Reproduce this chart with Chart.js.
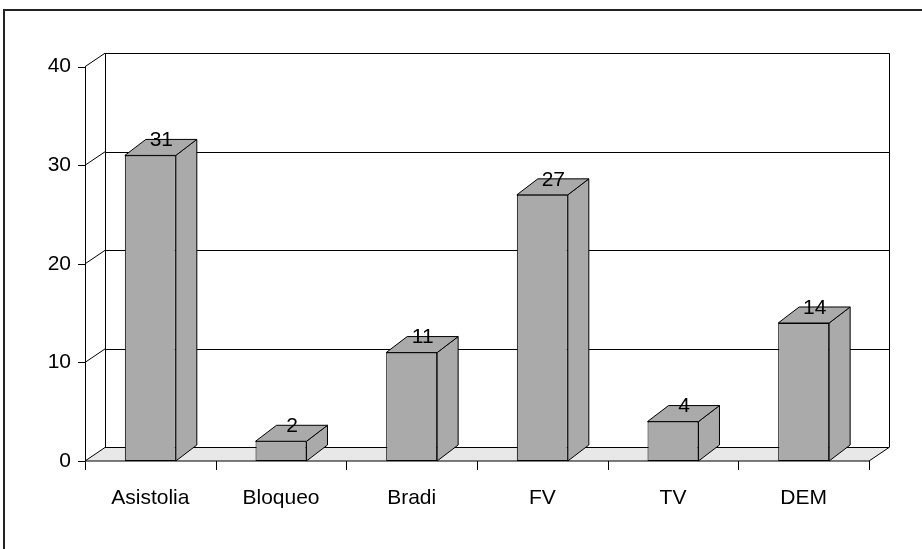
<!DOCTYPE html>
<html>
<head>
<meta charset="utf-8">
<script src="https://cdn.jsdelivr.net/npm/chart.js@4/dist/chart.umd.min.js"></script>
<style>
  html, body { margin: 0; padding: 0; background: #fff; }
  canvas { display: block; }
</style>
</head>
<body>
<canvas id="c" width="922" height="549"></canvas>
<script>
// Categories and counts
const categories = ['Asistolia', 'Bloqueo', 'Bradi', 'FV', 'TV', 'DEM'];
const values = [31, 2, 11, 27, 4, 14];
// Value axis
const yTicks = [0, 10, 20, 30, 40];

const FONT = "'Liberation Sans', Arial, sans-serif";
const FONT_SIZE = 21;
const WALL = { dx: 20, dy: -13.5 };   // depth of the back wall / floor
const BAR = { dx: 21, dy: -16 };      // depth of each bar
const BAR_FILL = '#aaaaaa';
const FLOOR_FILL = '#e8e8e8';

function line(ctx, x1, y1, x2, y2) {
  ctx.beginPath();
  ctx.moveTo(x1, y1);
  ctx.lineTo(x2, y2);
  ctx.stroke();
}
function poly(ctx, pts, fill) {
  ctx.beginPath();
  ctx.moveTo(pts[0][0], pts[0][1]);
  for (let i = 1; i < pts.length; i++) ctx.lineTo(pts[i][0], pts[i][1]);
  ctx.closePath();
  if (fill) { ctx.fillStyle = fill; ctx.fill(); }
  ctx.stroke();
}
const px = v => Math.round(v) + 0.5;

// Walls, floor, axes and tick marks of the 3-D frame
const frame3d = {
  id: 'frame3d',
  beforeDatasetsDraw(chart) {
    const { ctx, chartArea: a, scales: { x, y } } = chart;
    const L = a.left, R = a.right;
    const B = y.getPixelForValue(yTicks[0]);
    const T = y.getPixelForValue(yTicks[yTicks.length - 1]);
    const { dx, dy } = WALL;
    ctx.save();
    ctx.lineWidth = 1;
    ctx.strokeStyle = '#000';

    // floor
    poly(ctx, [[L, B], [L + dx, B + dy], [R + dx, B + dy], [R, B]], FLOOR_FILL);

    // gridlines on the back wall and matching diagonals on the side wall
    yTicks.forEach(v => {
      if (v === yTicks[0]) return;
      const yf = y.getPixelForValue(v);
      line(ctx, L, yf, L + dx, yf + dy);
      line(ctx, L + dx, px(yf + dy), R + dx, px(yf + dy));
    });
    // back wall edges
    line(ctx, px(L + dx), T + dy, px(L + dx), B + dy);
    line(ctx, px(R + dx), T + dy, px(R + dx), B + dy);

    // front value axis with tick marks
    line(ctx, px(L), T, px(L), B);
    yTicks.forEach(v => {
      const yf = px(y.getPixelForValue(v));
      line(ctx, L - 7, yf, L, yf);
    });
    // category tick marks
    const n = categories.length;
    for (let i = 0; i <= n; i++) {
      const xx = px(L + i * (R - L) / n);
      line(ctx, xx, B, xx, B + 9);
    }
    ctx.restore();
  },
  afterDatasetsDraw(chart) {
    const { ctx } = chart;
    const meta = chart.getDatasetMeta(0);
    const { dx, dy } = BAR;
    ctx.save();
    ctx.lineWidth = 1;
    ctx.strokeStyle = '#000';
    meta.data.forEach((bar, i) => {
      const p = bar.getProps(['x', 'y', 'base', 'width'], true);
      const l = p.x - p.width / 2, r = p.x + p.width / 2;
      poly(ctx, [[r, p.y], [r + dx, p.y + dy], [r + dx, p.base + dy], [r, p.base]], BAR_FILL);
      poly(ctx, [[l, p.y], [l + dx, p.y + dy], [r + dx, p.y + dy], [r, p.y]], BAR_FILL);
      ctx.fillStyle = '#000';
      ctx.font = FONT_SIZE + 'px ' + FONT;
      ctx.textAlign = 'center';
      ctx.textBaseline = 'middle';
      ctx.fillText(String(values[i]), p.x + 11, p.y - 15);
    });
    ctx.restore();
  },
  afterDraw(chart) {
    const { ctx } = chart;
    ctx.save();
    ctx.strokeStyle = '#222';
    ctx.lineWidth = 2;
    ctx.beginPath();
    ctx.moveTo(4, 549);
    ctx.lineTo(4, 10);
    ctx.lineTo(922, 10);
    ctx.stroke();
    ctx.restore();
  }
};

new Chart(document.getElementById('c'), {
  type: 'bar',
  data: {
    labels: categories,
    datasets: [{
      data: values,
      backgroundColor: BAR_FILL,
      borderColor: '#000',
      borderWidth: 1,
      borderSkipped: false,
      categoryPercentage: 1,
      barPercentage: 0.39
    }]
  },
  options: {
    responsive: false,
    animation: false,
    events: [],
    layout: { padding: { left: 0, right: 53, top: 66.7, bottom: 28 } },
    plugins: { legend: { display: false }, tooltip: { enabled: false } },
    scales: {
      x: {
        grid: { display: false },
        border: { display: false },
        ticks: { color: '#000', font: { family: FONT, size: FONT_SIZE }, padding: 17, maxRotation: 0 },
        afterFit(scale) { scale.height = 60; }
      },
      y: {
        min: yTicks[0],
        max: yTicks[yTicks.length - 1],
        grid: { display: false },
        border: { display: false },
        ticks: {
          color: '#000',
          font: { family: FONT, size: FONT_SIZE },
          padding: 6,
          stepSize: yTicks[1] - yTicks[0],
          callback: v => (yTicks.includes(v) ? String(v) : '')
        },
        afterFit(scale) { scale.width = 85; }
      }
    }
  },
  plugins: [frame3d]
});
</script>
</body>
</html>
